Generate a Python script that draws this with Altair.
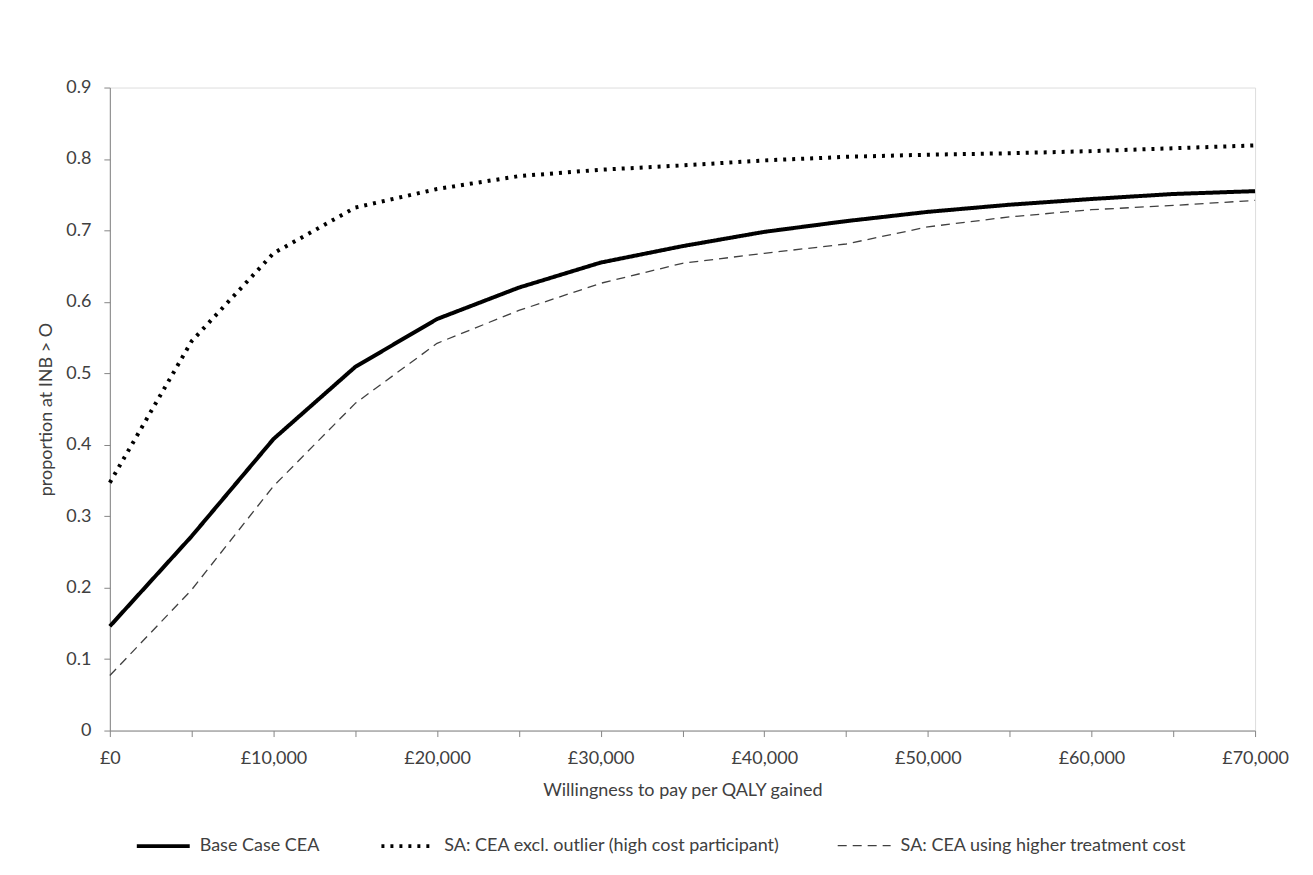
import altair as alt
import pandas as pd

wtp = [0, 5000, 10000, 15000, 20000, 25000, 30000, 35000, 40000, 45000,
       50000, 55000, 60000, 65000, 70000]
base_case = [0.146, 0.272, 0.408, 0.509, 0.576, 0.620, 0.655, 0.678, 0.698,
             0.713, 0.726, 0.736, 0.744, 0.751, 0.755]
excl_outlier = [0.347, 0.545, 0.668, 0.732, 0.758, 0.776, 0.785, 0.791, 0.798,
                0.803, 0.806, 0.808, 0.811, 0.815, 0.819]
higher_cost = [0.077, 0.197, 0.342, 0.458, 0.542, 0.588, 0.626, 0.654, 0.668,
               0.681, 0.705, 0.719, 0.729, 0.735, 0.742]

series_names = ["Base Case CEA",
                "SA: CEA excl. outlier (high cost participant)",
                "SA: CEA using higher treatment cost"]
x_ticks = [0, 5000, 10000, 15000, 20000, 25000, 30000, 35000, 40000, 45000,
           50000, 55000, 60000, 65000, 70000]
y_ticks = [0, 0.1, 0.2, 0.3, 0.4, 0.5, 0.6, 0.7, 0.8, 0.9]

rows = []
for name, vals in zip(series_names, [base_case, excl_outlier, higher_cost]):
    for x, y in zip(wtp, vals):
        rows.append({"wtp": x, "prop": y, "series": name})
df = pd.DataFrame(rows)

FONT = "Lato"
FS = 18
leg = alt.Legend(
    title=None, orient="none", direction="horizontal", columns=3,
    legendX=25, legendY=731, symbolType="stroke", symbolSize=2809,
    labelFont=FONT, labelFontSize=FS, labelColor="#404040", labelOffset=8,
    labelLimit=0, columnPadding=54, padding=0,
)

chart = alt.Chart(df).mark_line(strokeCap="butt", strokeJoin="round").encode(
    x=alt.X("wtp:Q", scale=alt.Scale(domain=[0, 70000], nice=False),
            axis=alt.Axis(values=x_ticks, title="Willingness to pay per QALY gained",
                          labelExpr="datum.value % 10000 == 0 ? '£' + format(datum.value, ',') : ''",
                          labelFlush=False, labelOverlap=False,
                          grid=False, domainColor="#868686", tickColor="#868686",
                          tickSize=6, labelPadding=13, labelFont=FONT, labelFontSize=FS,
                          labelColor="#404040", titleFont=FONT, titleFontSize=FS,
                          titleFontWeight="normal", titleColor="#404040", titlePadding=14)),
    y=alt.Y("prop:Q", scale=alt.Scale(domain=[0, 0.9], nice=False),
            axis=alt.Axis(values=y_ticks, title="proportion at  INB > O",
                          labelExpr="datum.value == 0 ? '0' : format(datum.value, '.1f')",
                          labelFlush=False, labelOverlap=False,
                          grid=False, domainColor="#868686", tickColor="#868686",
                          tickSize=6, labelPadding=13, labelFont=FONT, labelFontSize=FS,
                          labelColor="#404040", titleFont=FONT, titleFontSize=FS,
                          titleFontWeight="normal", titleColor="#404040", titlePadding=10)),
    color=alt.Color("series:N", sort=series_names,
                    scale=alt.Scale(domain=series_names, range=["#000000", "#000000", "#404040"]),
                    legend=leg),
    strokeDash=alt.StrokeDash("series:N", sort=series_names,
                              scale=alt.Scale(domain=series_names, range=[[1, 0], [3, 6], [9, 6]]),
                              legend=leg),
    strokeWidth=alt.StrokeWidth("series:N", sort=series_names,
                                scale=alt.Scale(type="ordinal", domain=series_names, range=[4, 4, 1.3]),
                                legend=leg),
).properties(
    width=1147, height=644,
    autosize=alt.AutoSizeParams(type="none"),
    padding={"left": 102, "top": 79, "right": 50, "bottom": 140},
).configure_view(stroke=None).configure(background="white")

chart.save("out.html", embed_options={"renderer": "svg", "actions": False})
